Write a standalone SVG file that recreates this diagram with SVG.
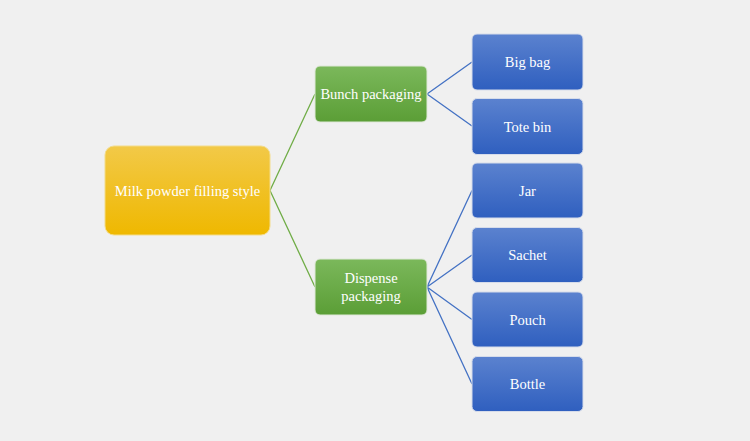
<svg xmlns="http://www.w3.org/2000/svg" width="750" height="441" viewBox="0 0 750 441">
<defs>
<linearGradient id="gy" x1="0" y1="0" x2="0" y2="1"><stop offset="0" stop-color="#f2c948"/><stop offset="1" stop-color="#efb800"/></linearGradient>
<linearGradient id="gg" x1="0" y1="0" x2="0" y2="1"><stop offset="0" stop-color="#7bb85b"/><stop offset="1" stop-color="#5b9e36"/></linearGradient>
<linearGradient id="gb" x1="0" y1="0" x2="0" y2="1"><stop offset="0" stop-color="#5b82cf"/><stop offset="1" stop-color="#2f5fbf"/></linearGradient>
<style>
.t{font-family:"Liberation Serif","Times New Roman",serif;font-size:14.5px;fill:#ffffff;text-anchor:middle;dominant-baseline:central}
.lg{stroke:#70ad47;stroke-width:1.3;fill:none}
.lb{stroke:#4472c4;stroke-width:1.3;fill:none}
.nb{fill:url(#gb);stroke:#d6dcea;stroke-width:1}
.ng{fill:url(#gg);stroke:#dfe8d8;stroke-width:1}
</style>
</defs>
<rect width="750" height="441" fill="#f0f0f0"/>
<g id="connectors">
<path class="lg" d="M270,190.5 L315,94 M270,190.5 L315,287"/>
<path class="lb" d="M427,94 L472,62 M427,94 L472,126"/>
<path class="lb" d="M427,287 L472,190.5 M427,287 L472,255 M427,287 L472,319.5 M427,287 L472,384"/>
</g>
<g id="root"><rect x="105" y="146" width="165" height="89" rx="9" fill="url(#gy)" stroke="#f3dc8a" stroke-width="1"/><text class="t" x="187.5" y="190.5">Milk powder filling style</text></g>
<g id="bunch"><rect class="ng" x="315" y="66" width="112" height="56" rx="5"/><text class="t" x="371" y="94">Bunch packaging</text></g>
<g id="dispense"><rect class="ng" x="315" y="259" width="112" height="56" rx="5"/><text class="t" x="371" y="278">Dispense</text><text class="t" x="371" y="296">packaging</text></g>
<g id="bigbag"><rect class="nb" x="472" y="34" width="111" height="56" rx="5"/><text class="t" x="527.5" y="62">Big bag</text></g>
<g id="totebin"><rect class="nb" x="472" y="98.5" width="111" height="56" rx="5"/><text class="t" x="527.5" y="126.5">Tote bin</text></g>
<g id="jar"><rect class="nb" x="472" y="163" width="111" height="55" rx="5"/><text class="t" x="527.5" y="190.5">Jar</text></g>
<g id="sachet"><rect class="nb" x="472" y="227.5" width="111" height="55" rx="5"/><text class="t" x="527.5" y="255">Sachet</text></g>
<g id="pouch"><rect class="nb" x="472" y="292" width="111" height="55" rx="5"/><text class="t" x="527.5" y="319.5">Pouch</text></g>
<g id="bottle"><rect class="nb" x="472" y="356.5" width="111" height="55" rx="5"/><text class="t" x="527.5" y="384">Bottle</text></g>
</svg>
